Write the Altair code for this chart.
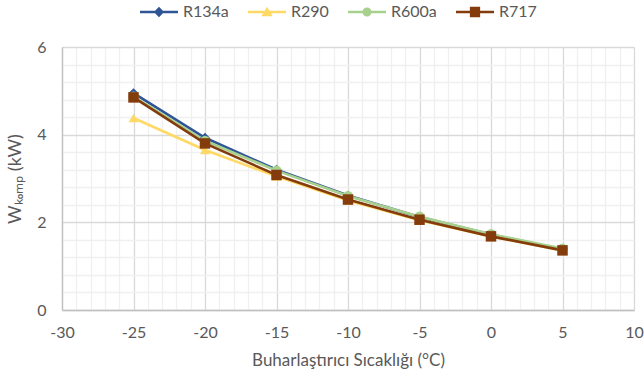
import altair as alt
import pandas as pd

# ---- data ----
temps = [-25, -20, -15, -10, -5, 0, 5]
r134a = [4.95, 3.93, 3.20, 2.61, 2.12, 1.72, 1.38]
r290 = [4.38, 3.65, 3.05, 2.50, 2.05, 1.68, 1.36]
r600a = [4.87, 3.86, 3.18, 2.60, 2.13, 1.73, 1.40]
r717 = [4.85, 3.80, 3.08, 2.52, 2.06, 1.68, 1.36]
series = ["R134a", "R290", "R600a", "R717"]
x_ticks = [-30, -29, -28, -27, -26, -25, -24, -23, -22, -21, -20, -19, -18, -17, -16,
           -15, -14, -13, -12, -11, -10, -9, -8, -7, -6, -5, -4, -3, -2, -1, 0,
           1, 2, 3, 4, 5, 6, 7, 8, 9, 10]
y_ticks = [0, 0.4, 0.8, 1.2, 1.6, 2, 2.4, 2.8, 3.2, 3.6, 4, 4.4, 4.8, 5.2, 5.6, 6]

# ---- styles ----
colors = ["#2F5597", "#FFD966", "#A9D18E", "#843C0C"]
shapes = ["diamond", "triangle-up", "circle", "square"]
marker_sizes = [95, 110, 85, 150]
legend_paths = [
    "M-1,-0.07H1V0.07H-1Z M0,-0.27L0.27,0L0,0.27L-0.27,0Z",
    "M-1,-0.07H1V0.07H-1Z M0,-0.27L0.3,0.22H-0.3Z",
    "M-1,-0.07H1V0.07H-1Z M0.24,0A0.24,0.24,0,1,1,-0.24,0A0.24,0.24,0,1,1,0.24,0Z",
    "M-1,-0.07H1V0.07H-1Z M-0.27,-0.27H0.27V0.27H-0.27Z",
]

rows = []
for name, vals in zip(series, [r134a, r290, r600a, r717]):
    for t, v in zip(temps, vals):
        rows.append({"T": t, "W": v, "Seri": name})
df = pd.DataFrame(rows)

FONT = "Lato"
GREY = "#595959"

x_enc = alt.X(
    "T:Q",
    scale=alt.Scale(domain=[-30, 10], nice=False, zero=False),
    axis=alt.Axis(
        values=x_ticks,
        labelExpr="datum.value % 5 === 0 ? toString(datum.value) : ''",
        labelOverlap=False,
        labelFlush=False,
        grid=True,
        gridColor={"condition": {"test": "datum.value % 5 === 0", "value": "#D9D9D9"}, "value": "#F0F0F0"},
        gridWidth=1.3,
        ticks=False,
        domainColor="#BFBFBF",
        domainWidth=1.3,
        labelFont=FONT,
        labelFontSize=16,
        labelColor=GREY,
        labelPadding=14,
        title="Buharlaştırıcı Sıcaklığı (°C)",
        titleFont=FONT,
        titleFontSize=17,
        titleFontWeight="normal",
        titleColor=GREY,
        titlePadding=12,
    ),
)
y_enc = alt.Y(
    "W:Q",
    scale=alt.Scale(domain=[0, 6], nice=False),
    axis=alt.Axis(
        values=y_ticks,
        labelExpr="datum.value % 2 === 0 ? toString(datum.value) : ''",
        labelOverlap=False,
        labelFlush=False,
        grid=True,
        gridColor={"condition": {"test": "datum.value % 2 === 0", "value": "#D9D9D9"}, "value": "#F0F0F0"},
        gridWidth=1.3,
        ticks=False,
        domainColor="#BFBFBF",
        domainWidth=1.3,
        labelFont=FONT,
        labelFontSize=16,
        labelColor=GREY,
        labelPadding=16,
        title="Wₖₒₘₚ (kW)",
        titleFont=FONT,
        titleFontSize=18,
        titleFontWeight="normal",
        titleColor=GREY,
        titlePadding=12,
    ),
)

color_scale = alt.Scale(domain=series, range=colors)

lines = alt.Chart(df).mark_line(strokeWidth=2.6).encode(
    x=x_enc, y=y_enc,
    color=alt.Color("Seri:N", scale=color_scale, legend=None),
)

points = alt.Chart(df).mark_point(filled=True, opacity=1).encode(
    x=x_enc, y=y_enc,
    color=alt.Color("Seri:N", scale=color_scale, legend=None),
    shape=alt.Shape("Seri:N", scale=alt.Scale(domain=series, range=shapes), legend=None),
    size=alt.Size("Seri:N", scale=alt.Scale(domain=series, range=marker_sizes), legend=None),
)

leg = alt.Legend(
    title=None,
    orient="none",
    direction="horizontal",
    legendX=78,
    legendY=-54,
    symbolSize=1444,
    symbolStrokeWidth=0,
    symbolOpacity=1,
    labelFont=FONT,
    labelFontSize=16,
    labelColor=GREY,
    labelOffset=5,
    columnPadding=19,
    padding=0,
)

legend_layer = alt.Chart(df).transform_filter("false").mark_point(filled=True, opacity=1).encode(
    x=x_enc, y=y_enc,
    color=alt.Color("Seri:N", scale=color_scale, legend=leg),
    shape=alt.Shape("Seri:N", scale=alt.Scale(domain=series, range=legend_paths), legend=leg),
)

chart = alt.layer(lines, points, legend_layer).resolve_scale(
    color="independent", shape="independent"
).properties(
    width=572,
    height=263,
    autosize=alt.AutoSizeParams(type="none"),
    padding={"left": 62, "top": 47, "right": 10, "bottom": 68},
    background="white",
).configure_view(stroke=None)

chart.save("out.html", embed_options={"renderer": "svg", "actions": False})
